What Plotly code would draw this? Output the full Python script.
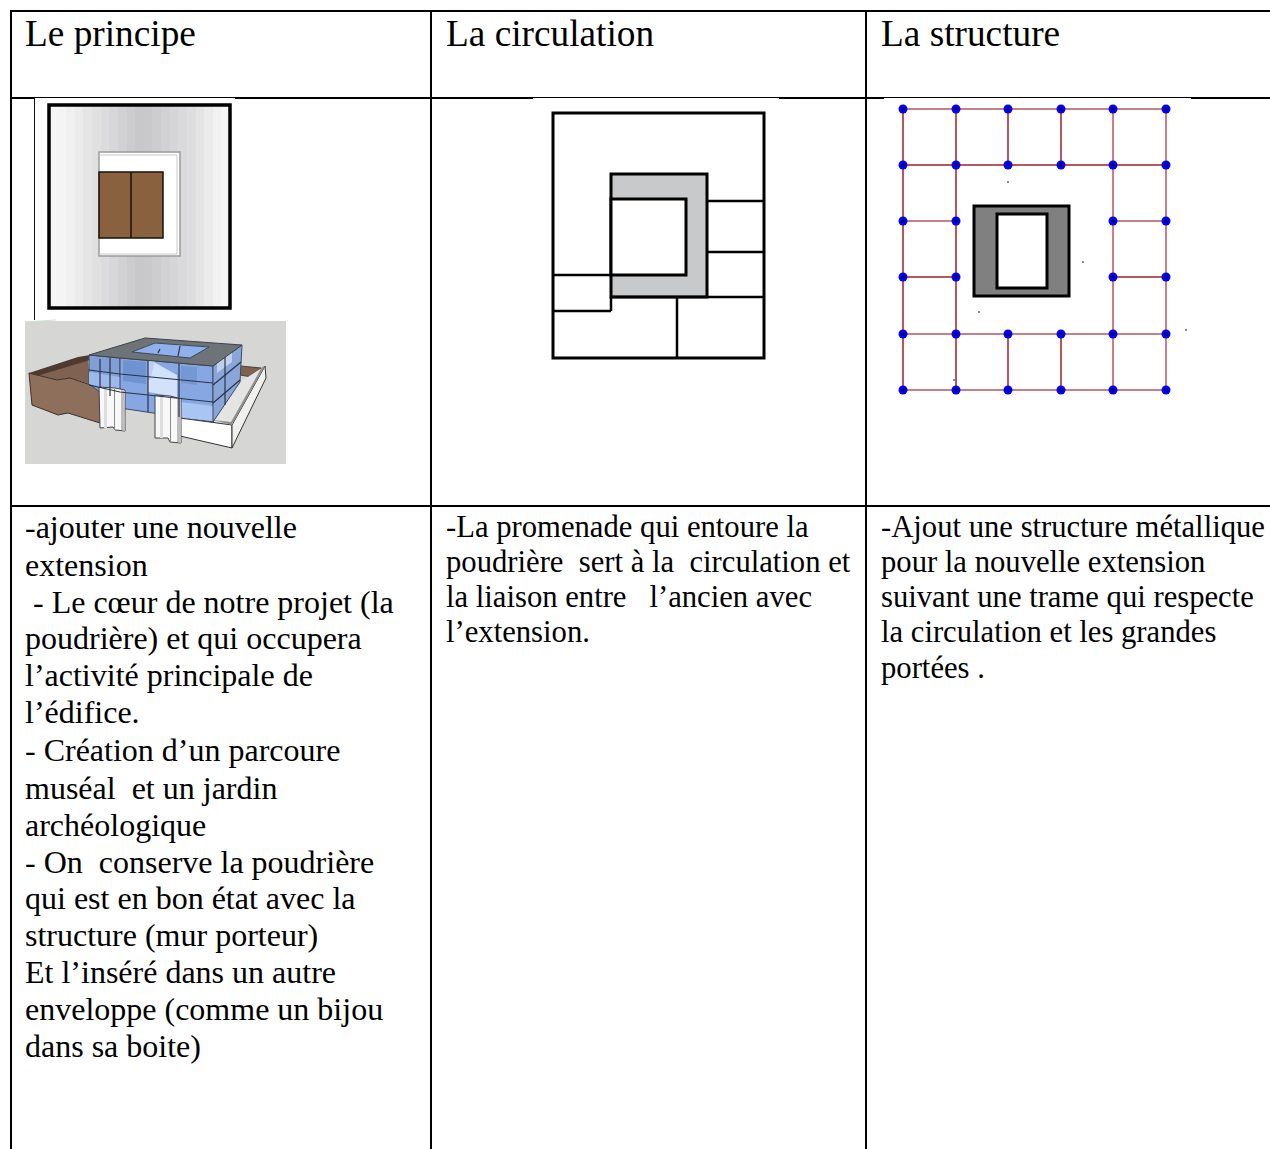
import plotly.graph_objects as go

FONT = "Liberation Serif"
W, H = 1270, 1149

headers = ["Le principe", "La circulation", "La structure"]
header_x = [25, 446, 881]
header_y = 33.5
header_size = 37.3

col1_lines = ["-ajouter une nouvelle", "extension", "\u00a0- Le cœur de notre projet (la",
              "poudrière) et qui occupera", "l’activité principale de", "l’édifice.",
              "- Création d’un parcoure", "muséal\u00a0 et un jardin", "archéologique",
              "- On\u00a0 conserve la poudrière", "qui est en bon état avec la",
              "structure (mur porteur)", "Et l’inséré dans un autre",
              "enveloppe (comme un bijou", "dans sa boite)"]
col1_y = [527, 565, 602, 638, 675, 712, 750, 788, 825, 862, 898, 935, 972, 1009, 1046]
col1_size = 32
col2_lines = ["-La promenade qui entoure la", "poudrière\u00a0 sert à la\u00a0 circulation et",
              "la liaison entre\u00a0\u00a0 l’ancien avec", "l’extension."]
col2_y = [527, 562, 597, 632]
col3_lines = ["-Ajout une structure métallique", "pour la nouvelle extension",
              "suivant une trame qui respecte", "la circulation et les grandes", "portées ."]
col3_y = [527, 562, 597, 632, 668]
body_size = 30.67

# table rules
table_v = [11, 431, 866]
table_top = 11
table_mid = 506
row_rule_thick = [(11, 34), (235, 533), (779, 884), (1191, 1270)]
row_rule_thin = [(34, 235), (533, 779), (884, 1191)]
row_rule_y = 98

# gradient panel (grey levels left to right)
grad_levels = [246, 244, 240, 235, 229, 224, 220, 215, 209, 204, 200, 201, 205, 209, 214, 218, 222, 228, 235, 241, 246]
grad_edges = [49 + 181 * i / 21 for i in range(22)]
grad_rows = [105, 308]

# structure grid
grid_x = [903, 956, 1008, 1061, 1113, 1166]
grid_y = [109, 165, 221, 277, 334, 390]
pale = "#c97f86"
dark = "#a01c28"
h_spans = [(0, 0, 5, pale), (1, 0, 5, dark), (2, 0, 1, pale), (2, 4, 5, pale),
           (3, 0, 1, dark), (3, 4, 5, dark), (4, 0, 5, pale), (5, 0, 5, pale)]
v_spans = [(0, 0, 5, dark), (1, 0, 5, dark), (2, 0, 1, dark), (2, 4, 5, dark),
           (3, 0, 1, dark), (3, 4, 5, dark), (4, 0, 5, pale), (5, 0, 5, pale)]
node_rows = [[0, 1, 2, 3, 4, 5], [0, 1, 2, 3, 4, 5], [0, 1, 4, 5], [0, 1, 4, 5], [0, 1, 2, 3, 4, 5], [0, 1, 2, 3, 4, 5]]
speck_x = [1008, 1068, 1083, 1055, 979, 954, 1186, 697, 613]
speck_y = [182, 250, 262, 269, 312, 380, 330, 247, 290]

# 3D view polygons: (fill, outline, width, points)
view_polys = [
    ("#d6d6d4", None, 0, [(25, 321), (286, 321), (286, 464), (25, 464)]),
    ("#7f6250", None, 0, [(37, 375), (88, 360), (90, 384), (70, 378), (57, 380)]),
    ("#4e3a2e", None, 0, [(29, 373), (78, 357), (90, 355), (90, 360), (37, 376)]),
    ("#8e6f5b", "#3e2f28", 1, [(29, 373), (32, 405), (58, 415), (68, 413), (100, 423), (100, 388), (70, 378), (57, 380), (37, 375)]),
    ("#7d6350", "#4a4038", 1, [(240, 366), (261, 368), (258, 378), (240, 375)]),
    ("#e4e4e2", None, 0, [(213, 421), (240, 382), (262, 368), (230, 425)]),
    ("#7f9fd6", "#3c4a60", 1, [(89, 355), (120, 358), (120, 407), (89, 384)]),
    ("#9db9eb", None, 0, [(89, 372), (120, 377), (120, 391), (89, 384)]),
    ("#86a7e2", "#3c4a60", 1, [(120, 358), (213, 366), (213, 422), (120, 408)]),
    ("#6f92d0", None, 0, [(123, 360), (146, 362), (146, 384), (123, 381)]),
    ("#d2e2fa", None, 0, [(148, 378), (152, 361), (177, 375), (177, 397), (148, 392)]),
    ("#b9cff4", None, 0, [(148, 361), (155, 361), (150, 380), (148, 380)]),
    ("#a9c5f2", None, 0, [(180, 402), (213, 406), (213, 421), (180, 418)]),
    ("#7698d2", None, 0, [(181, 366), (197, 367), (197, 385), (181, 383)]),
    ("#8aa6d8", "#3c4a60", 1, [(213, 366), (242, 345), (240, 382), (213, 422)]),
    ("#c0d0e8", None, 0, [(217, 362), (232, 352), (232, 362), (217, 373)]),
    ("#6e7378", "#3f4348", 1, [(89, 355), (145, 338), (242, 345), (213, 366), (120, 358)]),
    ("#8fb0ea", "#3f4a5c", 1, [(132, 352), (155, 343), (209, 347), (190, 358)]),
    ("#ffffff", "#333333", 1, [(180, 418), (232, 425), (232, 448), (180, 436)]),
    ("#f0f0ee", "#333333", 1, [(232, 425), (265, 366), (266, 378), (232, 448)]),
    ("#8f8f8f", None, 0, [(213, 420), (232, 425), (265, 366), (262, 367), (231, 422)]),
    ("#f8f8f8", "#444444", 1, [(99, 387), (115, 388), (125, 390), (125, 431), (115, 430), (113, 427), (100, 428)]),
    ("#dedede", None, 0, [(104, 388), (107, 388), (107, 428), (104, 428)]),
    ("#bdbdbd", None, 0, [(121, 390), (125, 391), (125, 431), (121, 430)]),
    ("#8a8a8a", None, 0, [(114, 389), (115, 389), (115, 430), (114, 430)]),
    ("#f8f8f8", "#444444", 1, [(155, 395), (170, 396), (181, 399), (181, 443), (170, 442), (168, 438), (155, 438)]),
    ("#dedede", None, 0, [(160, 396), (163, 396), (163, 438), (160, 438)]),
    ("#bdbdbd", None, 0, [(177, 398), (181, 399), (181, 443), (177, 442)]),
    ("#8a8a8a", None, 0, [(170, 397), (171, 397), (171, 441), (170, 441)]),
]
view_lines = [
    [(89, 370), (120, 374), (213, 383)],
    [(89, 385), (120, 392), (213, 402)],
    [(100, 359), (100, 388)], [(110, 358), (110, 396)],
    [(148, 361), (148, 412)], [(179, 364), (179, 417)],
    [(225, 357), (225, 405)], [(213, 385), (241, 362)], [(213, 403), (240, 380)],
    [(160, 349), (158, 353)], [(180, 346), (178, 356)],
]
view_greenline = [(25, 322), (56, 320)]

# circulation plan
circ_outer = [553, 113, 764, 358]
circ_grey = [611, 174, 707, 297]
circ_inner = [611, 199, 686, 275]
circ_segments = [[(707, 201), (764, 201)], [(707, 252), (764, 252)], [(553, 275), (611, 275)],
                 [(553, 311), (611, 311)], [(611, 297), (611, 311)], [(611, 297), (764, 297)],
                 [(677, 297), (677, 358)]]

# principle plan
plan_outer = [49, 105, 230, 308]
plan_void = [99, 152, 180, 256]
plan_brown = [99, 172, 163, 238]
plan_divider = 131
plan_side_line = [(34.5, 98), (34.5, 320)]

# structure core
core_outer = [974, 206, 1069, 296]
core_inner = [997, 214, 1047, 288]

fig = go.Figure()
shapes = []


def seg(pts, color="black", width=2):
    d = "M" + " L".join(f"{x},{y}" for x, y in pts)
    shapes.append(dict(type="path", path=d, line=dict(color=color, width=width), layer="above"))


def poly(pts, fill, color=None, width=0):
    d = "M" + " L".join(f"{x},{y}" for x, y in pts) + " Z"
    shapes.append(dict(type="path", path=d, fillcolor=fill,
                       line=dict(color=color or fill, width=width), layer="above"))


def rect(b, fill=None, color="black", width=3):
    shapes.append(dict(type="rect", x0=b[0], y0=b[1], x1=b[2], y1=b[3],
                       fillcolor=fill if fill else "rgba(0,0,0,0)",
                       line=dict(color=color, width=width), layer="above"))


# gradient
fig.add_trace(go.Heatmap(x=grad_edges, y=grad_rows, z=[grad_levels],
                         colorscale=[[0, "rgb(200,200,202)"], [1, "rgb(246,246,247)"]],
                         showscale=False, hoverinfo="skip"))

# grid lines
for spans, vertical in ((h_spans, False), (v_spans, True)):
    for idx, a, b, col in spans:
        if vertical:
            xs, ys = [grid_x[idx]] * 2, [grid_y[a], grid_y[b]]
        else:
            xs, ys = [grid_x[a], grid_x[b]], [grid_y[idx]] * 2
        fig.add_trace(go.Scatter(x=xs, y=ys, mode="lines", hoverinfo="skip",
                                 line=dict(color=col, width=2 if col == pale else 1.5)))
node_x = [grid_x[c] for r, cols in enumerate(node_rows) for c in cols]
node_y = [grid_y[r] for r, cols in enumerate(node_rows) for c in cols]
fig.add_trace(go.Scatter(x=node_x, y=node_y, mode="markers", hoverinfo="skip",
                         marker=dict(symbol="circle", size=9, color="#0000ff", line=dict(width=0))))
fig.add_trace(go.Scatter(x=node_x, y=node_y, mode="markers", hoverinfo="skip",
                         marker=dict(symbol="square", size=2.5, color="#000000", line=dict(width=0))))

# table
for x in table_v:
    seg([(x, table_top), (x, H)])
seg([(10, table_top), (W, table_top)])
seg([(10, table_mid), (W, table_mid)])
for a, b in row_rule_thick:
    seg([(a, row_rule_y), (b, row_rule_y)])
for a, b in row_rule_thin:
    seg([(a, row_rule_y - 0.5), (b, row_rule_y - 0.5)], width=1)

# principle
seg(plan_side_line, color="#111111", width=1)
rect(plan_outer, width=3.5)
rect(plan_void, fill="white", color="#9a9a9a", width=1.5)
seg([(99, 155), (177, 155), (177, 254), (99, 254)], color="#c8c8c8", width=1)
rect(plan_brown, fill="#8a613f", color="#1a1208", width=1.5)
seg([(plan_divider, plan_brown[1]), (plan_divider, plan_brown[3])], color="#1a1208", width=1.5)

# 3D view
for fill, col, w, pts in view_polys:
    poly(pts, fill, col, w)
for pts in view_lines:
    seg(pts, color="#2a3346", width=1.2)
seg(view_greenline, color="#cfe3cf", width=1)

# circulation
rect(circ_outer, fill="white", width=3)
rect(circ_grey, fill="#c8c9cb", width=3)
rect(circ_inner, fill="white", width=3)
for s in circ_segments:
    seg(s, width=2.5)

# core
rect(core_outer, fill="#808080", width=3)
rect(core_inner, fill="white", width=3)

# small specks on top of everything else
fig.add_trace(go.Scatter(x=speck_x, y=speck_y, mode="markers", hoverinfo="skip",
                         marker=dict(symbol="square", size=1.5, color="#333333", line=dict(width=0))))

# text
annots = []


def text(s, x, y, size):
    annots.append(dict(text=s, x=x, y=y, xref="x", yref="y", xanchor="left", yanchor="middle",
                       showarrow=False, align="left", font=dict(family=FONT, size=size, color="black"),
                       borderpad=0, borderwidth=0))


for s, x in zip(headers, header_x):
    text(s, x, header_y, header_size)
for s, y in zip(col1_lines, col1_y):
    text(s, header_x[0], y, col1_size)
for s, y in zip(col2_lines, col2_y):
    text(s, header_x[1], y, body_size)
for s, y in zip(col3_lines, col3_y):
    text(s, header_x[2], y, body_size)

fig.update_layout(width=W, height=H, margin=dict(l=0, r=0, t=0, b=0), showlegend=False,
                  plot_bgcolor="white", paper_bgcolor="white", shapes=shapes, annotations=annots,
                  xaxis=dict(range=[0, W], visible=False, fixedrange=True),
                  yaxis=dict(range=[H, 0], visible=False, fixedrange=True))
fig.write_html("out.html", config=dict(displayModeBar=False),
               post_script="document.body.style.margin='0';document.documentElement.style.overflow='hidden';")
